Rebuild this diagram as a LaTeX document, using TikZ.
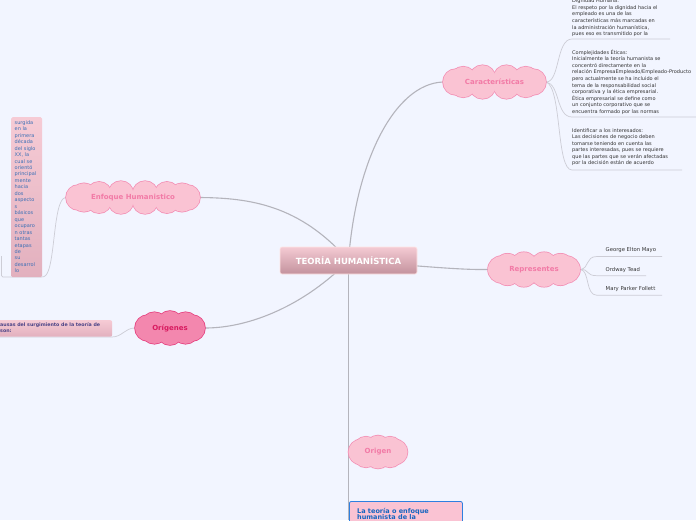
\documentclass[tikz,border=0pt]{standalone}
\usepackage{fontspec}
\setmainfont{DejaVu Sans}
\definecolor{bg}{HTML}{F2F5FF}
\definecolor{cloudfill}{HTML}{FAC3D3}
\definecolor{clouddraw}{HTML}{F38FB5}
\definecolor{cloudtext}{HTML}{F27AA6}
\definecolor{orfill}{HTML}{F387AE}
\definecolor{ordraw}{HTML}{E5407F}
\definecolor{ortext}{HTML}{D81B60}
\definecolor{mainline}{HTML}{B4B4BC}
\definecolor{subline}{HTML}{CDCDD6}
\definecolor{smalltext}{HTML}{333333}
\definecolor{bluetext}{HTML}{3A6FB5}
\definecolor{boxblue}{HTML}{2E7FE0}
\definecolor{boxbluetext}{HTML}{1565C0}
\definecolor{purpletext}{HTML}{4A4386}
\definecolor{maintop}{HTML}{F4CAD3}
\definecolor{mainbot}{HTML}{C3929D}
\definecolor{boxtop}{HTML}{F6CBD5}
\definecolor{boxbot}{HTML}{E2B0BE}
\pgfdeclarelayer{paper}
\pgfdeclarelayer{background}
\pgfsetlayers{paper,background,main}
% cloud outline: cx, cy, w, h, n puffs, fill, draw
\newcommand{\cloudpuffs}[7]{%
  \pgfmathsetmacro\cldr{0.38*#4}%
  \pgfmathsetmacro\clda{#3/2-\cldr}%
  \pgfmathsetmacro\cldb{#4/2-\cldr}%
  \foreach \k in {1,...,#5}{%
    \pgfmathsetmacro\cldt{\k*360/#5}%
    \draw[fill=#6,draw=#7,line width=1.5pt] ({#1+\clda*cos(\cldt)},{#2+\cldb*sin(\cldt)}) circle[radius=\cldr pt];}%
  \foreach \k in {1,...,#5}{%
    \pgfmathsetmacro\cldt{\k*360/#5}%
    \fill[#6] ({#1+\clda*cos(\cldt)},{#2+\cldb*sin(\cldt)}) circle[radius=\cldr pt];}%
  \fill[#6] (#1,#2) ellipse[x radius=\clda pt, y radius=\cldb pt];%
}
\tikzset{
  cloudlabel/.style={inner sep=0pt, text=cloudtext, font=\fontsize{7}{8}\selectfont\bfseries},
  mainconn/.style={draw=mainline, line width=1.1pt},
  subconn/.style={draw=subline, line width=0.7pt},
  smallblock/.style={anchor=north west, align=left, inner sep=0pt, text=smalltext, font=\fontsize{5}{6.55}\selectfont},
  leaf/.style={anchor=base west, inner sep=0pt, text=smalltext, font=\fontsize{5.3}{6}\selectfont},
}
\begin{document}
\begin{tikzpicture}[x=1pt,y=-1pt]
\useasboundingbox (0,0) rectangle (696,520);
\begin{pgfonlayer}{paper}
\fill[bg] (0,0) rectangle (696,520);
\end{pgfonlayer}

% clouds
\cloudpuffs{494.5}{82}{103}{34}{10}{cloudfill}{clouddraw}
\node[cloudlabel, minimum width=103pt, minimum height=34pt] (car) at (494.5,82) {Características};
\cloudpuffs{133}{197.5}{134}{33}{14}{cloudfill}{clouddraw}
\node[cloudlabel, minimum width=134pt, minimum height=33pt] (enf) at (133,197.5) {Enfoque Humanistico};
\cloudpuffs{534}{269.5}{92}{35}{10}{cloudfill}{clouddraw}
\node[cloudlabel, minimum width=92pt, minimum height=35pt] (rep) at (534,269.5) {Representes};
\cloudpuffs{378}{452}{59}{33}{8}{cloudfill}{clouddraw}
\node[cloudlabel, minimum width=59pt, minimum height=33pt] (ori) at (378,452) {Origen};
\cloudpuffs{170}{328}{70}{34}{8}{orfill}{ordraw}
\node[cloudlabel, text=ortext, minimum width=70pt, minimum height=34pt] (ogs) at (170,328) {Orígenes};

% central
\node[draw=white!60!pink, line width=0.6pt, rounded corners=2pt, top color=maintop, bottom color=mainbot, minimum width=137pt, minimum height=27pt, inner sep=0pt, text=white, font=\fontsize{8.5}{10}\selectfont\bfseries] (main) at (348.5,260.5) {TEORÍA HUMANÍSTICA};

% coordinates
\coordinate (c1) at (572,39);  \coordinate (c1e) at (670,39);
\coordinate (c2) at (572,117); \coordinate (c2e) at (696,117);
\coordinate (c3) at (572,170); \coordinate (c3e) at (682,170);
\coordinate (r1) at (597,256.5); \coordinate (r1e) at (662,256.5);
\coordinate (r2) at (597,275.7); \coordinate (r2e) at (646,275.7);
\coordinate (r3) at (597,295.3); \coordinate (r3e) at (662,295.3);
\coordinate (e1) at (42,277); \coordinate (e1e) at (1.5,256);
\coordinate (bot) at (348.5,520);

\begin{pgfonlayer}{background}
% main connectors
\draw[mainconn] (main.center) .. controls (356,160) and (395,84) .. (car.west);
\draw[mainconn] (main.center) .. controls (300,205) and (250,198) .. (enf.east);
\draw[mainconn] (main.center) .. controls (305,305) and (250,328) .. (ogs.east);
\draw[mainconn] (main.center) .. controls (420,266) and (460,270) .. (rep.west);
\draw[mainconn] (main.center) -- (bot);
% sub connectors
\draw[subconn] (car.east) .. controls (560,82) and (556,39) .. (c1) -- (c1e);
\draw[subconn] (car.east) .. controls (560,84) and (556,117) .. (c2) -- (c2e);
\draw[subconn] (car.east) .. controls (562,88) and (556,170) .. (c3) -- (c3e);
\draw[subconn] (rep.east) .. controls (590,268) and (585,256.5) .. (r1) -- (r1e);
\draw[subconn] (rep.east) .. controls (590,269) and (585,275.7) .. (r2) -- (r2e);
\draw[subconn] (rep.east) .. controls (590,270) and (585,295.3) .. (r3) -- (r3e);
\draw[subconn, rounded corners=1.5pt] (enf.west) .. controls (52,198) and (56,275) .. (e1) -- (1.5,277) -- (e1e);
\draw[subconn] (ogs.west) .. controls (125,328) and (122,337) .. (112,337) -- (0,337);
\end{pgfonlayer}

% text blocks
\node[smallblock] (t1) at (572,-1.2) {Dignidad Humana:\\El respeto por la dignidad hacia el\\empleado es una de las\\características más marcadas en\\la administración humanística,\\pues eso es transmitido por la};
\node[smallblock] (t2) at (572,49.5) {Complejidades Éticas:\\Inicialmente la teoría humanista se\\concentró directamente en la\\relación EmpresaEmpleado/Empleado-Producto\\pero actualmente se ha incluido el\\tema de la responsabilidad social\\corporativa y la ética empresarial.\\Ética empresarial se define como\\un conjunto corporativo que se\\encuentra formado por las normas};
\node[smallblock] (t3) at (572,128) {Identificar a los interesados:\\Las decisiones de negocio deben\\tomarse teniendo en cuenta las\\partes interesadas, pues se requiere\\que las partes que se verán afectadas\\por la decisión están de acuerdo};

\node[leaf] (l1) at (605.5,251.7) {George Elton Mayo};
\node[leaf] (l2) at (605.5,271) {Ordway Tead};
\node[leaf] (l3) at (605.5,290.5) {Mary Parker Follett};

% Enfoque box
\node[anchor=north west, top color=boxtop, bottom color=boxbot, rounded corners=1.5pt, minimum width=31pt, minimum height=160pt, inner sep=0pt] (ebox) at (11,117) {};
\node[anchor=north west, align=left, inner sep=0pt, text=bluetext, font=\fontsize{5}{6.46}\selectfont] (etext) at (14.5,120.3) {surgida\\en la\\primera\\década\\del siglo\\XX, la\\cual se\\orientó\\principal\\mente\\hacia\\dos\\aspecto\\s\\básicos\\que\\ocuparo\\n otras\\tantas\\etapas\\de\\su\\desarrol\\lo};

% Origenes box
\node[anchor=north west, rounded corners=2pt, top color=boxtop, bottom color=boxbot, minimum width=116pt, minimum height=16.5pt, inner sep=0pt] (obox) at (-4,320) {};
\node[anchor=north west, align=left, inner sep=0pt, text=purpletext, font=\fontsize{4.75}{6.3}\selectfont\bfseries] (otext) at (0,322.3) {ausas del surgimiento de la teoría de\\son:};

% bottom box
\node[anchor=north west, fill=cloudfill, draw=boxblue, line width=0.8pt, rounded corners=2pt, minimum width=113pt, minimum height=40pt, inner sep=0pt] (bbox) at (349,501) {};
\node[anchor=north west, align=left, inner sep=0pt, text=boxbluetext, font=\fontsize{6.5}{6.4}\selectfont\bfseries] (btext) at (357,507.8) {La teoría o enfoque\\humanista de la};
\end{tikzpicture}
\end{document}
